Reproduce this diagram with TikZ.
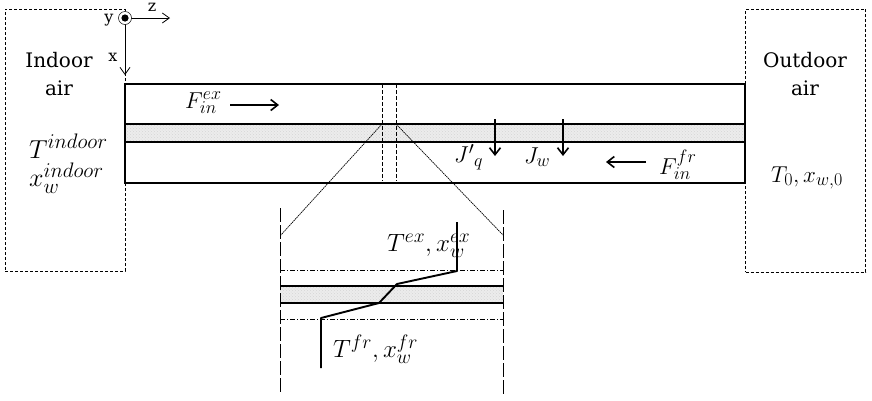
\documentclass[tikz,border=0pt]{standalone}
\usepackage{fix-cm}
\usepackage{fontspec}
\setmainfont{DejaVu Serif}
\usetikzlibrary{arrows.meta,patterns}
\DeclareMathSizes{23}{23}{18}{14}
\DeclareMathSizes{25}{25}{19.5}{15}
\DeclareMathSizes{26}{26}{21}{16}
\definecolor{membrane}{HTML}{ECECEC}
\definecolor{speck}{HTML}{D6D6D6}
\tikzset{
  airbox/.style={draw,line width=0.9pt,dash pattern=on 3pt off 2pt},
  wall/.style={draw,line width=2pt},
  thin axis/.style={line width=0.8pt,-{Straight Barb[length=7pt,width=10pt]}},
  flow/.style={line width=1.6pt,-{Straight Barb[length=7pt,width=11pt]}},
  guide/.style={line width=0.7pt,dash pattern=on 4pt off 2pt},
  longguide/.style={line width=0.8pt,dash pattern=on 14pt off 3pt},
  chain/.style={line width=0.7pt,dash pattern=on 5pt off 2pt on 1pt off 2pt},
  slant/.style={line width=0.7pt,dash pattern=on 1.5pt off 0.7pt},
  profile/.style={line width=1.9pt,line join=round},
  word/.style={font=\fontsize{20}{23}\selectfont,inner sep=0pt,align=center},
  sym/.style={inner sep=0pt,font=\fontsize{23}{26}\selectfont},
  symmid/.style={inner sep=0pt,font=\fontsize{25}{28}\selectfont},
  symbig/.style={inner sep=0pt,font=\fontsize{26}{29}\selectfont},
  small/.style={inner sep=0pt,font=\fontsize{16}{19}\selectfont},
  band/.style={fill=membrane,postaction={pattern=crosshatch dots,pattern color=speck}}
}
\begin{document}
\begin{tikzpicture}[x=1pt,y=-1pt]
\useasboundingbox (0,0) rectangle (872,400);
% air boxes
\node[airbox,minimum width=120pt,minimum height=262pt,inner sep=0pt] (indoor) at (65,140) {};
\node[airbox,minimum width=120pt,minimum height=263pt,inner sep=0pt] (outdoor) at (805.5,140.5) {};
% membrane main
\coordinate (mA) at (125,124); \coordinate (mB) at (745,142);
\path[band] (mA) rectangle (mB);
\coordinate (cA) at (125,84); \coordinate (cB) at (745,183);
\draw[wall] (cA) rectangle (cB);
\coordinate (mL1) at (125,124); \coordinate (mR1) at (745,124);
\coordinate (mL2) at (125,142); \coordinate (mR2) at (745,142);
\draw[wall] (mL1) -- (mR1);
\draw[wall] (mL2) -- (mR2);
% section guides
\coordinate (g1t) at (382,84); \coordinate (g1b) at (382,181);
\coordinate (g2t) at (396,84); \coordinate (g2b) at (396,181);
\draw[guide] (g1t) -- (g1b);
\draw[guide] (g2t) -- (g2b);
% zoomed membrane
\coordinate (zL1) at (280,286); \coordinate (zR1) at (503,286);
\coordinate (zL2) at (280,303); \coordinate (zR2) at (503,303);
\path[band] (zL1) rectangle (zR2);
\draw[wall] (zL1) -- (zR1);
\draw[wall] (zL2) -- (zR2);
\coordinate (vLt) at (280,208); \coordinate (vLb) at (280,392);
\coordinate (vRt) at (503,210); \coordinate (vRb) at (503,395);
\draw[longguide] (vLt) -- (vLb);
\draw[longguide] (vRt) -- (vRb);
\coordinate (cL1) at (280,270); \coordinate (cR1) at (503,270);
\coordinate (cL2) at (280,319); \coordinate (cR2) at (503,319);
\draw[chain] (cL1) -- (cR1);
\draw[chain] (cL2) -- (cR2);
\coordinate (sL) at (280,236); \coordinate (sLt) at (382,124);
\coordinate (sR) at (503,235); \coordinate (sRt) at (396,124);
\draw[slant] (sLt) -- (sL);
\draw[slant] (sRt) -- (sR);
% profile
\coordinate (p1) at (457,222); \coordinate (p2) at (457,271);
\coordinate (p3) at (397,284); \coordinate (p4) at (379,303);
\coordinate (p5) at (321,318); \coordinate (p6) at (321,368);
\draw[profile] (p1) -- (p2) -- (p3) -- (p4) -- (p5) -- (p6);
% axes
\coordinate (O) at (125,18); \coordinate (zend) at (170,18); \coordinate (xend) at (125,75);
\draw[thin axis] (O) -- (zend);
\draw[thin axis] (O) -- (xend);
\node[circle,draw,fill=white,line width=0.5pt,minimum size=13pt,inner sep=0pt] (yo) at (O) {};
\fill (O) circle (3.6pt);
\node[small] (ylab) at (109,20) {y};
\node[small] (zlab) at (152,7) {z};
\node[small] (xlab) at (113,57) {x};
% flow arrows
\coordinate (f1a) at (230,105); \coordinate (f1b) at (279,105);
\draw[flow] (f1a) -- (f1b);
\coordinate (f2a) at (646,162); \coordinate (f2b) at (606,162);
\draw[flow] (f2a) -- (f2b);
\coordinate (j1a) at (495,119); \coordinate (j1b) at (495,156);
\draw[flow] (j1a) -- (j1b);
\coordinate (j2a) at (563,119); \coordinate (j2b) at (563,156);
\draw[flow] (j2a) -- (j2b);
% labels
\node[word] (inlab) at (59,74) {Indoor\\[5pt]air};
\node[word] (outlab) at (805,74) {Outdoor\\[5pt]air};
\node[symbig,anchor=west] (Tin) at (29,146) {$T^{indoor}$};
\node[symbig,anchor=west] (xin) at (29,178) {$x_w^{indoor}$};
\node[sym,anchor=west] (Fex) at (185,103) {$F_{in}^{ex}$};
\node[sym,anchor=west] (Ffr) at (659,165) {$F_{in}^{fr}$};
\node[sym,anchor=west] (Jq) at (454,157) {$J'{}_q$};
\node[sym,anchor=west] (Jw) at (524,157) {$J_w$};
\node[sym,anchor=west] (T0) at (771,178) {$T_0,x_{w,0}$};
\node[symmid,anchor=west] (Tex) at (387,246) {$T^{ex},x_w^{ex}$};
\node[symmid,anchor=west] (Tfr) at (333,349) {$T^{fr},x_w^{fr}$};
\end{tikzpicture}
\end{document}
